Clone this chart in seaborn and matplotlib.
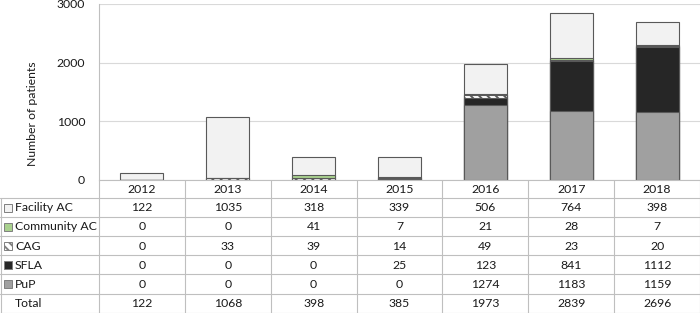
import numpy as np
import pandas as pd
import matplotlib
matplotlib.use('Agg')
import matplotlib.pyplot as plt
import matplotlib.transforms as mtransforms
from matplotlib.patches import Rectangle
import seaborn as sns

years = ['2012', '2013', '2014', '2015', '2016', '2017', '2018']
facility_ac = [122, 1035, 318, 339, 506, 764, 398]
community_ac = [0, 0, 41, 7, 21, 28, 7]
cag = [0, 33, 39, 14, 49, 23, 20]
sfla = [0, 0, 0, 25, 123, 841, 1112]
pup = [0, 0, 0, 0, 1274, 1183, 1159]
totals = [122, 1068, 398, 385, 1973, 2839, 2696]

sns.set_style('white')
plt.rcParams['font.family'] = ['Lato', 'DejaVu Sans']
plt.rcParams['hatch.linewidth'] = 1.4
plt.rcParams['hatch.color'] = 'black'

FS = 8.8
TXT = '#1A1A1A'

series = [
    ('Facility AC', facility_ac, '#F2F2F2', ''),
    ('Community AC', community_ac, '#A9D18E', ''),
    ('CAG', cag, 'white', '\\\\\\\\'),
    ('SFLA', sfla, '#262626', ''),
    ('PuP', pup, '#A0A0A0', ''),
]

df = pd.DataFrame({'year': years})
# cumulative heights, bottom series first
stack = np.zeros(len(years))
cum = {}
for name, vals, _, _ in series[::-1]:
    stack = stack + np.array(vals)
    cum[name] = stack.copy()

W, H = 700, 313
fig = plt.figure(figsize=(W / 100, H / 100), dpi=100)
ax = fig.add_axes([99 / W, 1 - 180 / H, 601 / W, 176 / H])

edge = '#595959'
for name, vals, color, hatch in series:
    df['h'] = cum[name]
    sns.barplot(data=df, x='year', y='h', ax=ax, color=color, saturation=1,
                width=0.5, edgecolor=edge, linewidth=0.8, hatch=hatch or None)

ax.set_xlim(-0.5, 6.5)
ax.set_ylim(0, 3000)
ax.set_yticks([0, 1000, 2000, 3000])
ax.yaxis.grid(True, color='#D9D9D9', linewidth=0.8)
ax.set_axisbelow(True)
ax.tick_params(axis='y', length=0, labelsize=FS, colors=TXT, pad=10)
ax.tick_params(axis='x', length=0, labelsize=FS, colors=TXT, pad=3)
ax.set_xlabel('')
ax.set_ylabel('Number of patients', fontsize=FS, color=TXT)
ax.yaxis.set_label_coords(-0.101, 0.375)
for s in ['top', 'right']:
    ax.spines[s].set_visible(False)
ax.spines['left'].set_color('#BFBFBF')
ax.spines['bottom'].set_color('#BFBFBF')
ax.spines['left'].set_linewidth(0.8)
ax.spines['bottom'].set_linewidth(0.8)

# data table under the chart
tab = fig.add_axes([0, 0, 1, 133 / H])
tab.set_xlim(0, W)
tab.set_ylim(133, 0)
tab.axis('off')
tr = mtransforms.blended_transform_factory(ax.transData, tab.transData)

line_c = '#BFBFBF'
row_edges = [18 + 19.1 * i for i in range(7)]
for y in row_edges:
    tab.plot([0, W], [y, y], color=line_c, lw=0.8, clip_on=False)
tab.plot([0.5, 0.5], [18, 132.6], color=line_c, lw=0.8, clip_on=False)
for k in range(len(years) + 1):
    tab.plot([k - 0.5, k - 0.5], [0, 132.6], color=line_c, lw=0.8,
             transform=tr, clip_on=False)

rows = [(name, vals, color, hatch) for name, vals, color, hatch in series]
rows.append(('Total', totals, None, ''))
for i, (name, vals, color, hatch) in enumerate(rows):
    yc = 18 + 19.1 * i + 9.8
    if color is not None:
        tab.add_patch(Rectangle((4, yc - 4), 8, 8, facecolor=color,
                                edgecolor='#7F7F7F', lw=0.7, hatch=hatch or None))
    tab.text(15, yc, name, ha='left', va='center', fontsize=FS, color=TXT)
    for k, v in enumerate(vals):
        tab.text(k, yc, str(v), ha='center', va='center', fontsize=FS,
                 color=TXT, transform=tr)

fig.savefig('out.png', dpi=100)
